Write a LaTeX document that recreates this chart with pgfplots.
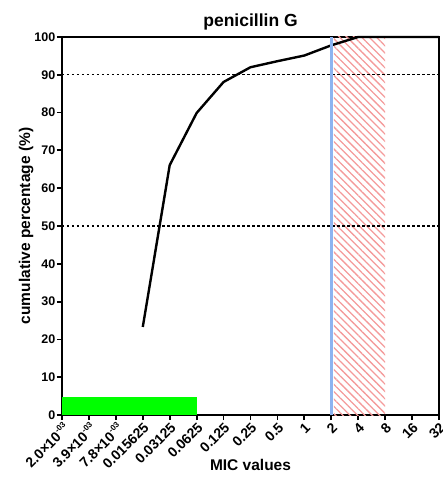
\documentclass[border=0pt]{standalone}
\usepackage{fontspec}
\setmainfont{Liberation Sans}
\usepackage{pgfplots}
\pgfplotsset{compat=1.18}
\usetikzlibrary{patterns.meta}
\definecolor{micgreen}{HTML}{00FF00}
\definecolor{bpblue}{HTML}{8DB4F0}
\definecolor{hatchred}{HTML}{F49A9A}
\newcommand{\expo}[1]{\raisebox{0.8ex}{\fontsize{8}{8}\selectfont #1}}

\begin{document}
\begin{tikzpicture}
\begin{axis}[
    scale only axis,
    width=377pt, height=378pt,
    xmin=0, xmax=14, ymin=0, ymax=100,
    xtick={0,...,14},
    xticklabels={
      2.0×10\expo{-03},
      3.9×10\expo{-03},
      7.8×10\expo{-03},
      0.015625, 0.03125, 0.0625, 0.125, 0.25, 0.5, 1, 2, 4, 8, 16, 32},
    ytick={0,10,...,100},
    /pgf/number format/assume math mode=true,
    tick align=outside,
    xtick pos=left, ytick pos=left,
    major tick length=5pt,
    every tick/.style={black, line width=1.8pt},
    axis line style={line width=2.2pt},
    xticklabel style={font=\bfseries\fontsize{14}{14}\selectfont, rotate=45, anchor=north east, inner sep=1pt},
    yticklabel style={font=\bfseries\fontsize{12.5}{12.5}\selectfont, inner sep=1.5pt},
    title={penicillin G},
    title style={font=\bfseries\fontsize{17.5}{17.5}\selectfont, yshift=-3pt},
    xlabel={MIC values},
    ylabel={cumulative percentage (\%)},
    label style={font=\bfseries\fontsize{15.5}{15.5}\selectfont},
    xlabel style={at={(axis description cs:0.5,0)}, anchor=center, yshift=-50pt},
    ylabel style={yshift=-4pt},
    clip=false,
]
% susceptible range
\addplot[fill=micgreen, draw=none] coordinates {(0,0) (0,4.7) (5,4.7) (5,0)} --cycle;
% hatched range
\addplot[draw=none, pattern={Lines[angle=-45, distance=5.2pt, line width=1.3pt]}, pattern color=hatchred]
  coordinates {(10.1,0) (10.1,100) (12,100) (12,0)} --cycle;
% reference levels
\addplot[black, line width=1.2pt, dash pattern=on 2.5pt off 2.5pt] coordinates {(0,90) (14,90)};
\addplot[black, line width=1.2pt, dash pattern=on 2.5pt off 2.5pt] coordinates {(0,50) (14,50)};
% cumulative distribution
\addplot[black, line width=2.4pt, line join=round] coordinates {
  (3,23.3) (4,66.1) (5,79.9) (6,88.1) (7,92.0) (8,93.6) (9,95.1)
  (10,97.8) (11,100) (12,100) (13,100) (14,100)};
% breakpoint
\addplot[bpblue, line width=3pt] coordinates {(10,0) (10,100)};
\end{axis}
\pgfresetboundingbox
\path[use as bounding box] (-62pt,-62pt) rectangle (381pt,415pt);
\end{tikzpicture}
\end{document}
